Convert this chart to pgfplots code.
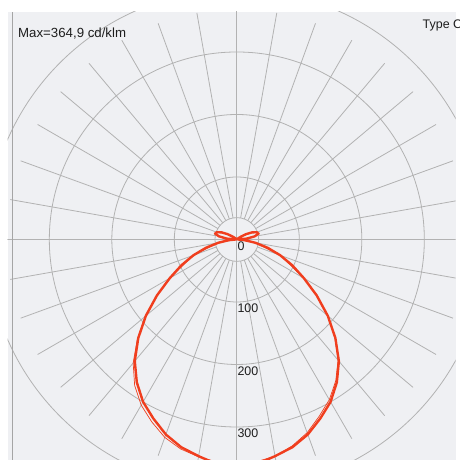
\documentclass[border=0pt]{standalone}
\usepackage{pgfplots}
\pgfplotsset{compat=1.18}
\usepackage{pgfplotstable}
\usepackage{fontspec}
\setmainfont{Liberation Sans}

\definecolor{bg}{RGB}{239,240,243}
\definecolor{gridc}{RGB}{178,178,178}
\definecolor{frame}{RGB}{165,165,165}
\definecolor{curve}{RGB}{240,62,30}
\definecolor{txt}{RGB}{30,30,30}

% C0 (right, angle -90..90) and C180 (left, 90..270), polar angle in degrees, cd/klm
\pgfplotstableread{
a I
-90 365
-85 361
-80 352
-75 344
-70 332
-65 316
-60 300
-55 279
-50 254
-45 223
-40 190
-35 156
-30 124
-25 98
-20 74
-15 51
-10 30
-5 13
0 2
5 16
10 29
15 36
20 34
25 27
30 17
35 8
40 3
50 1
70 0
90 0
110 0
130 1
140 3
145 8
150 17
155 27
160 34
165 36
170 29
175 16
180 2
185 13
190 30
195 51
200 74
205 98
210 124
215 156
220 190
225 223
230 254
235 279
240 300
245 316
250 332
255 344
260 352
265 361
270 365
}\planeA

% C90/C270 plane
\pgfplotstableread{
a I
-90 365
-80 352
-75 342
-70 329
-65 312
-60 296
-55 276
-50 252
-45 222
-40 190
-35 156
-30 124
-20 74
-10 30
0 2
180 2
190 30
200 74
210 124
215 157
220 191
225 225
230 258
235 285
240 306
245 322
250 337
255 347
260 353
270 365
}\planeB

\begin{document}
\begin{tikzpicture}[x=1bp,y=1bp]
\begin{axis}[
    at={(12,0)}, anchor=south west,
    width=448bp, height=448bp, scale only axis,
    xmin=-366.9, xmax=349.9, ymin=-352.8, ymax=364,
    enlargelimits=false,
    clip bounding box=upper bound,
    axis line style={draw=none}, ticks=none,
    axis background/.style={fill=bg},
    ]
\draw[gridc, line width=0.8bp] (axis cs:0,0) circle[radius=35];
\pgfplotsinvokeforeach{100,200,300,400}{
  \draw[gridc, line width=0.8bp] (axis cs:0,0) circle[radius=#1];
}
\pgfplotsinvokeforeach{10,20,...,350}{
  \draw[gridc, line width=0.8bp] (axis cs:{35*cos(#1)},{35*sin(#1)}) -- (axis cs:{368*cos(#1)},{368*sin(#1)});
}
\draw[gridc, line width=0.8bp] (axis cs:-400,0) -- (axis cs:400,0);
\draw[gridc, line width=0.8bp] (axis cs:0,-400) -- (axis cs:0,400);

\addplot[data cs=polar, curve, line width=0.7bp] table[x=a, y=I] {\planeB};
\addplot[data cs=polar, curve, line width=2.4bp, line join=round] table[x=a, y=I] {\planeA};

\pgfplotsinvokeforeach{0,100,200,300}{
  \node[anchor=north west, inner sep=0pt, text=txt, font=\fontsize{12.5}{14}\selectfont]
    at (axis cs:0,-#1) [xshift=0.5bp, yshift=-2bp] {#1};
}
\end{axis}
\draw[frame, line width=1bp] (12.5,0) -- (12.5,448);
\node[anchor=base west, inner sep=0pt, text=txt, font=\fontsize{13.3}{15}\selectfont] at (18,422.7) {Max=364,9 cd/klm};
\node[anchor=base west, inner sep=0pt, text=txt, font=\fontsize{12.5}{14}\selectfont] at (422.5,431.5) {Type C};
\pgfresetboundingbox
\path[use as bounding box] (0,0) rectangle (460,460);
\end{tikzpicture}
\end{document}
